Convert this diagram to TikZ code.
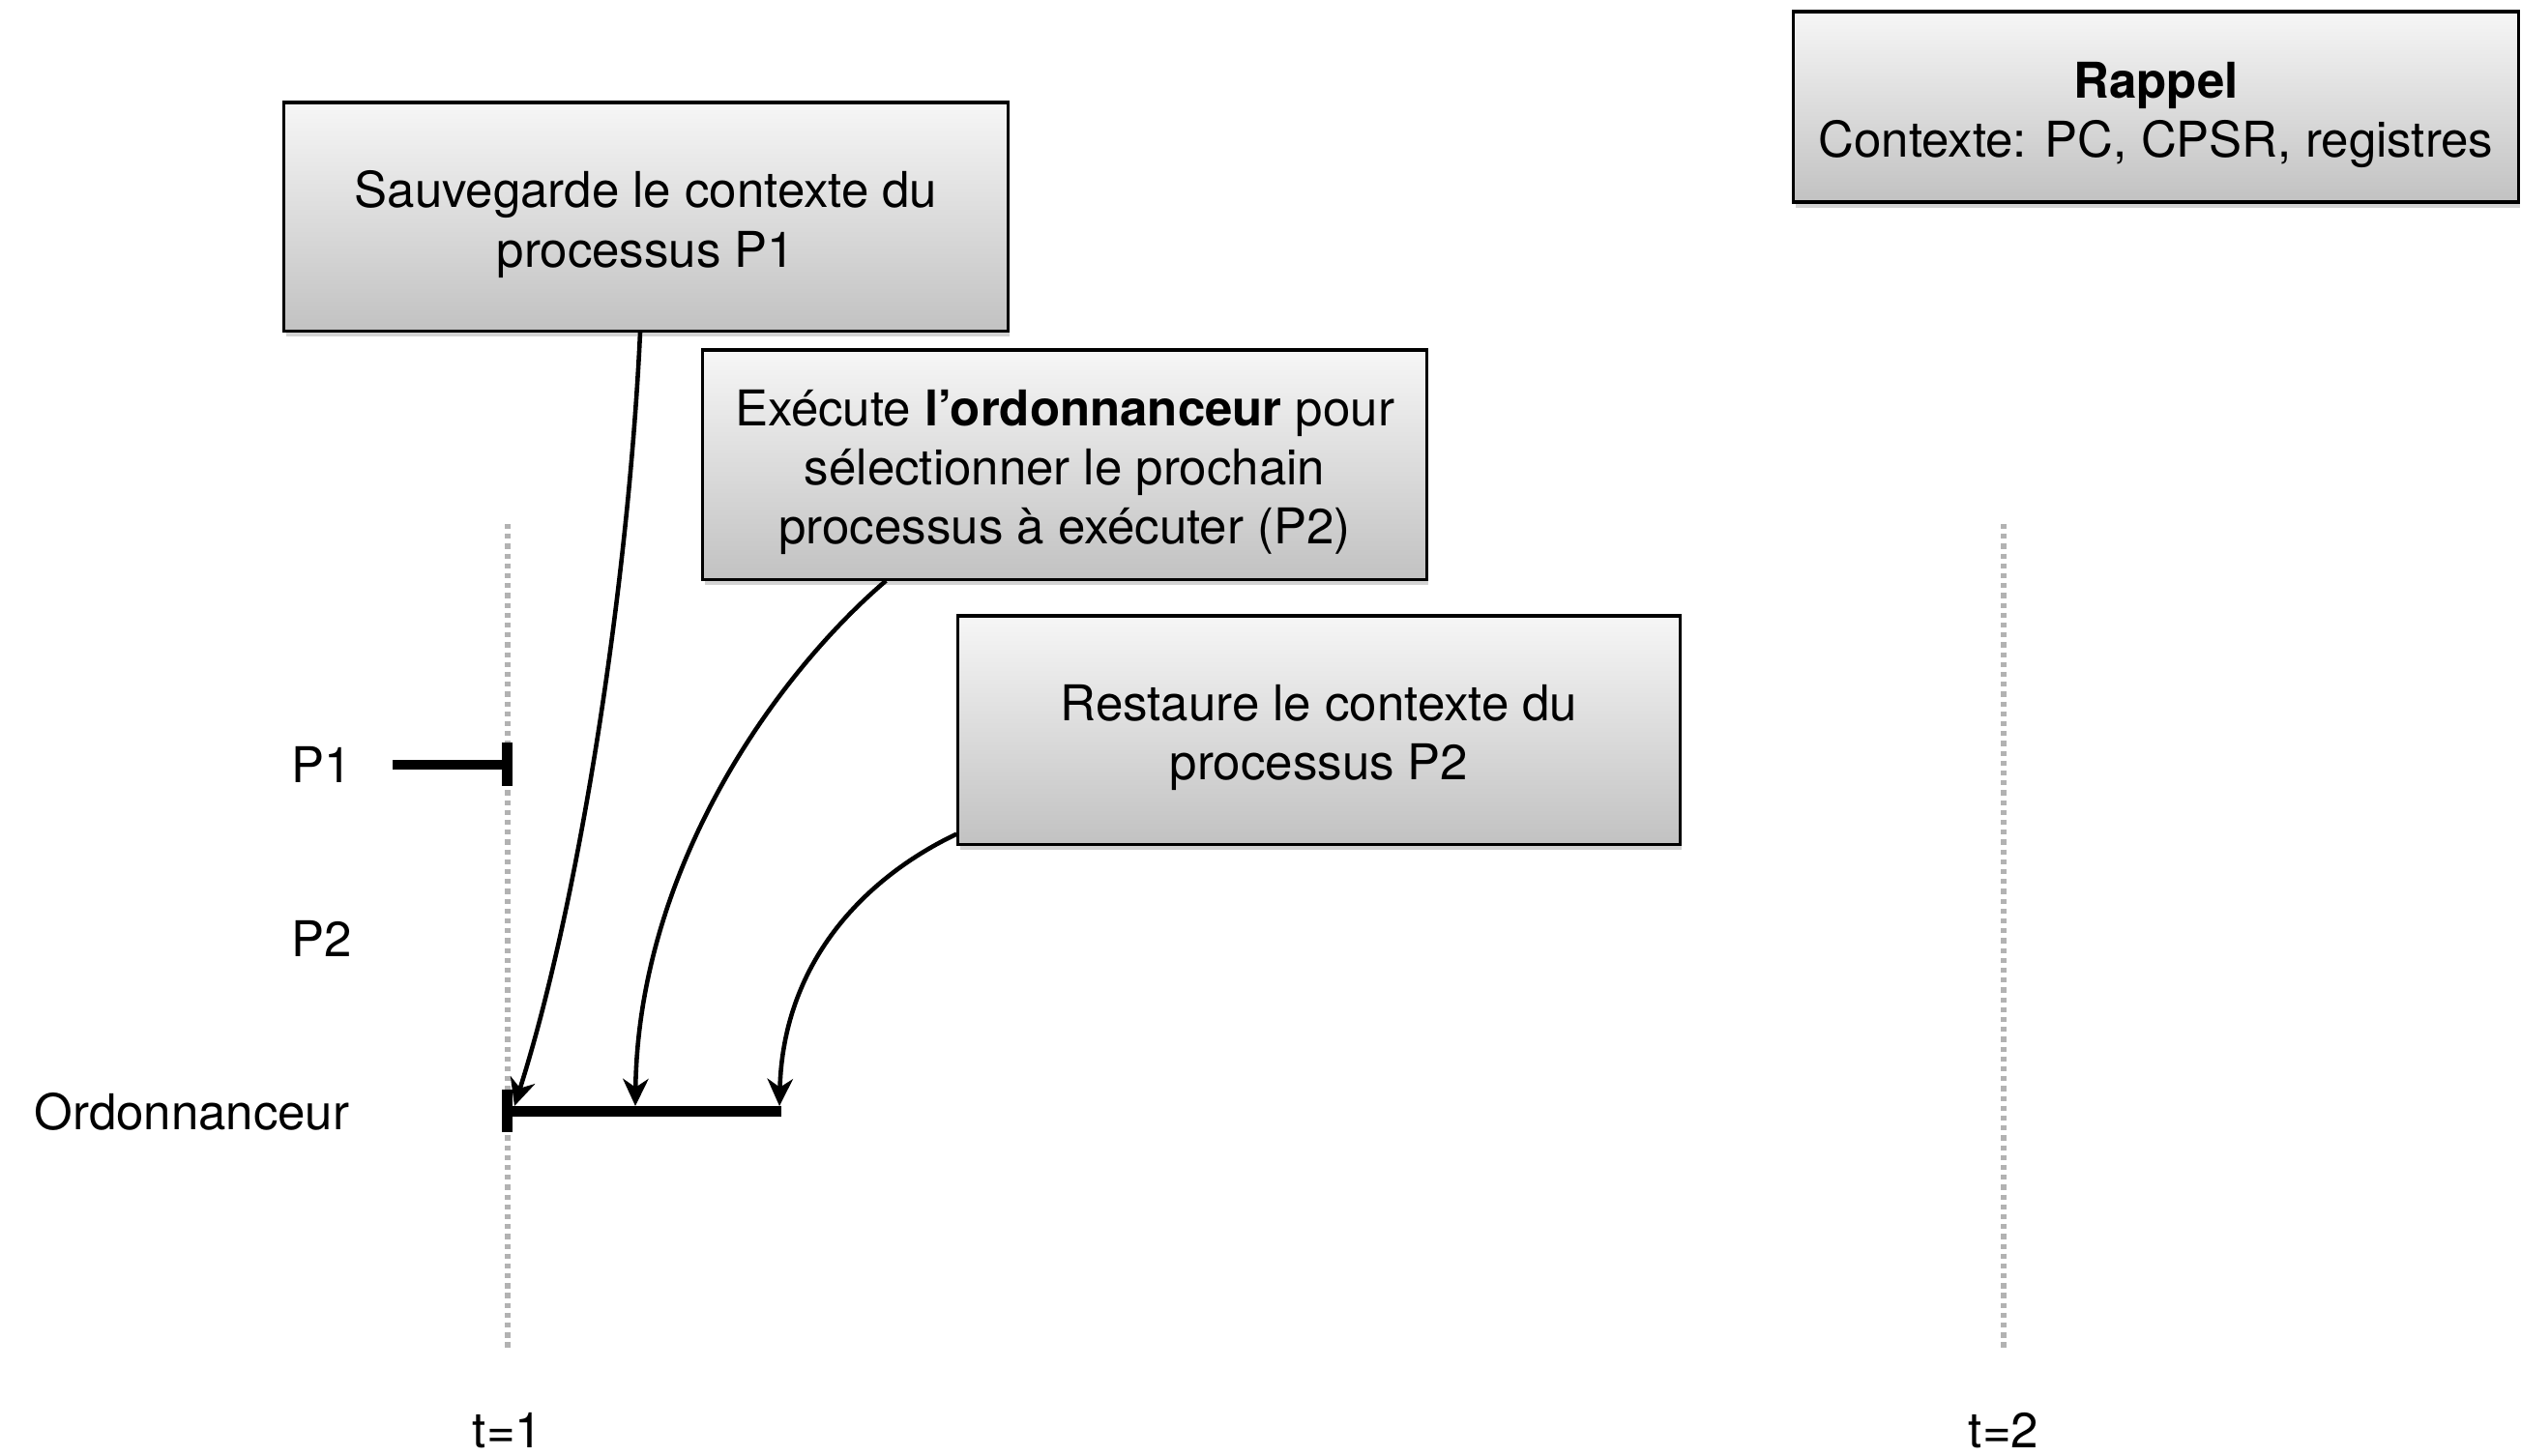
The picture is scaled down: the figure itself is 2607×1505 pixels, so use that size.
\documentclass[tikz,border=0pt]{standalone}
\usepackage{fontspec}
\setmainfont{TeX Gyre Heros}
\usetikzlibrary{arrows.meta,shadows,calc}
\begin{document}
\begin{tikzpicture}[x=0.01cm,y=-0.01cm,
  note/.style={draw=black, line width=0.9pt, top color=gray!7, bottom color=gray!48,
    drop shadow={shadow xshift=0.6pt,shadow yshift=-1.8pt,opacity=0.35},
    inner sep=0pt},
  notetext/.style={align=center, inner sep=0pt, yshift=-2.3pt,
    font=\fontsize{14.5}{17.4}\selectfont},
  lane/.style={font=\fontsize{14.5}{17.4}\selectfont, inner sep=0pt},
  timeline/.style={draw=gray!60, line width=1.5pt, dash pattern=on 1.5pt off 1.4pt},
  barline/.style={line width=3.1pt},
  endmark/.style={line width=3.1pt},
  link/.style={line width=1.3pt, -{Stealth[length=8pt,width=7.5pt,inset=2.5pt]}},
]
\useasboundingbox (0,0) rectangle (2607,1505);

% time lines
\coordinate (t1top) at (525,542);
\coordinate (t1bot) at (525,1397);
\coordinate (t2top) at (2072,542);
\coordinate (t2bot) at (2072,1397);
\draw[timeline] (t1top) -- (t1bot);
\draw[timeline] (t2top) -- (t2bot);
\node[lane] (t1) at (525,1480) {t=1};
\node[lane] (t2) at (2072,1480) {t=2};

% lane labels
\node[lane] (p1) at (333,791) {P1};
\node[lane] (p2) at (333,971) {P2};
\node[lane, anchor=east] (ord) at (362,1150) {Ordonnanceur};

% P1 bar
\coordinate (p1s) at (406,791);
\coordinate (p1e) at (525,791);
\coordinate (p1ct) at (524.5,768);
\coordinate (p1cb) at (524.5,813);
\draw[barline] (p1s) -- (p1e);
\draw[endmark] (p1ct) -- (p1cb);

% Ordonnanceur bar
\coordinate (os) at (522,1149.5);
\coordinate (oe) at (808,1149.5);
\coordinate (oct) at (524.5,1127);
\coordinate (ocb) at (524.5,1171);
\draw[barline] (os) -- (oe);
\draw[endmark] (oct) -- (ocb);

\coordinate (a1) at (532,1144);
\coordinate (a2) at (657,1144);
\coordinate (a3) at (806,1144);

% boxes
\node[note, minimum width=7.48cm, minimum height=2.36cm,
  label={[notetext, name=b1t]center:{Sauvegarde le contexte du\\processus P1}}] (b1) at (668,224) {};
\node[note, minimum width=7.48cm, minimum height=2.37cm,
  label={[notetext, name=b2t]center:{Exécute \textbf{l’ordonnanceur} pour\\sélectionner le prochain\\processus à exécuter (P2)}}] (b2) at (1101,480.5) {};
\node[note, minimum width=7.46cm, minimum height=2.36cm,
  label={[notetext, name=b3t]center:{Restaure le contexte du\\processus P2}}] (b3) at (1364,755) {};
\node[note, minimum width=7.49cm, minimum height=1.97cm,
  label={[notetext, name=rapt]center:{\textbf{Rappel}\\Contexte: PC, CPSR, registres}}] (rap) at (2229.5,110.5) {};

% connectors
\draw[link] ($(b1.south)+(-6,0)$) .. controls (650,600) and (600,930) .. (a1);
\draw[link] ($(b2.south west)+(191,0)$) .. controls (800,700) and (660,900) .. (a2);
\draw[link] ($(b3.south west)+(0,-12)$) .. controls (900,905) and (810,990) .. (a3);
\end{tikzpicture}
\end{document}
